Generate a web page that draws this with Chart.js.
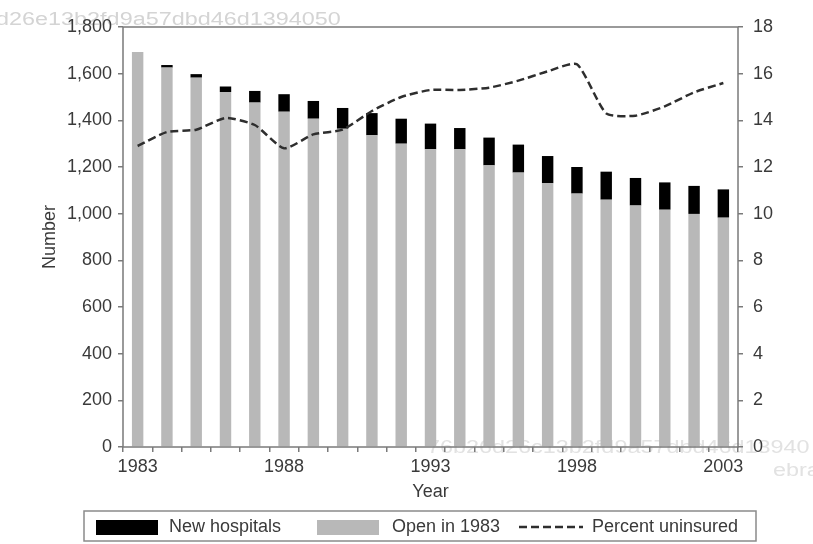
<!DOCTYPE html>
<html>
<head>
<meta charset="utf-8">
<script src="https://cdn.jsdelivr.net/npm/chart.js@4.4.1/dist/chart.umd.min.js"></script>
<style>
  html, body { margin: 0; padding: 0; background: #fff; }
  #wrap { width: 813px; height: 544px; }
</style>
</head>
<body>
<div id="wrap"><canvas id="chart" width="813" height="544"></canvas></div>
<script>
// ── Data ───────────────────────────────────────────────────
const years = ["1983", "1984", "1985", "1986", "1987", "1988", "1989", "1990", "1991", "1992",
               "1993", "1994", "1995", "1996", "1997", "1998", "1999", "2000", "2001", "2002", "2003"];
const shownYears = ["1983", "1988", "1993", "1998", "2003"];

const openIn1983   = [1693, 1626, 1583, 1521, 1476, 1437, 1407, 1364, 1336, 1300,
                      1276, 1276, 1207, 1176, 1131, 1086, 1060, 1035, 1017, 999, 983];
const newHospitals = [0, 11, 15, 24, 50, 75, 76, 89, 95, 107,
                      110, 91, 119, 120, 116, 114, 120, 118, 117, 120, 121];
const pctUninsured = [12.9, 13.5, 13.6, 14.1, 13.8, 12.8, 13.4, 13.6, 14.4, 15.0,
                      15.3, 15.3, 15.4, 15.7, 16.1, 16.4, 14.3, 14.2, 14.6, 15.2, 15.6];

const leftTicks  = [0, 1800, 200];
const rightTicks = [0, 18, 2];

// ── Style ──────────────────────────────────────────────────
const FONT = "'Liberation Sans', Arial, Helvetica, sans-serif";
const AXIS = "#7a7a7a";
const TEXT = "#3a3a3a";
const GRAY = "#b8b8b8";
const DASH = [8, 4];

Chart.defaults.font.family = FONT;
Chart.defaults.font.size = 18;
Chart.defaults.color = TEXT;

// ── Plugins: watermark, frame, legend box ─────────────────
const watermark = {
    id: "watermark",
    beforeDraw(chart) {
        const ctx = chart.ctx;
        ctx.save();
        ctx.font = "18px " + FONT;
        ctx.textBaseline = "alphabetic";
        ctx.fillStyle = "#d4d4d4";
        ctx.translate(-4, 25);
        ctx.scale(1.3, 1);
        ctx.fillText("d26e13b2fd9a57dbd46d1394050", 0, 0);
        ctx.restore();

        ctx.save();
        ctx.font = "18px " + FONT;
        ctx.fillStyle = "#e2e2e2";
        ctx.translate(427, 453);
        ctx.scale(1.3, 1);
        ctx.fillText("76b26d26c13b2fd9a57dbd46d13940", 0, 0);
        ctx.restore();

        ctx.save();
        ctx.font = "18px " + FONT;
        ctx.fillStyle = "#e2e2e2";
        ctx.translate(773, 476);
        ctx.scale(1.3, 1);
        ctx.fillText("ebrary", 0, 0);
        ctx.restore();
    },
};

const frame = {
    id: "frame",
    afterDraw(chart) {
        const { ctx, chartArea: a } = chart;
        ctx.save();
        ctx.strokeStyle = AXIS;
        ctx.lineWidth = 1.5;
        ctx.strokeRect(a.left, a.top, a.right - a.left, a.bottom - a.top);
        ctx.restore();
    },
};

const legendBox = {
    id: "legendBox",
    afterDraw(chart) {
        const ctx = chart.ctx;
        const ds = chart.data.datasets;
        ctx.save();
        ctx.strokeStyle = "#8a8a8a";
        ctx.lineWidth = 1.5;
        ctx.strokeRect(84, 511, 672, 30);

        ctx.font = "18px " + FONT;
        ctx.fillStyle = TEXT;
        ctx.textBaseline = "middle";

        // New hospitals
        ctx.fillStyle = ds[1].backgroundColor;
        ctx.fillRect(96, 520, 62, 15);
        ctx.fillStyle = TEXT;
        ctx.fillText(ds[1].label, 169, 527);

        // Open in 1983
        ctx.fillStyle = ds[0].backgroundColor;
        ctx.fillRect(317, 520, 62, 15);
        ctx.fillStyle = TEXT;
        ctx.fillText(ds[0].label, 392, 527);

        // Percent uninsured
        ctx.strokeStyle = ds[2].borderColor;
        ctx.lineWidth = 2.5;
        ctx.setLineDash(DASH);
        ctx.beginPath();
        ctx.moveTo(519, 527);
        ctx.lineTo(583, 527);
        ctx.stroke();
        ctx.setLineDash([]);
        ctx.fillText(ds[2].label, 592, 527);
        ctx.restore();
    },
};

// ── Chart ──────────────────────────────────────────────────
const ctx = document.getElementById("chart").getContext("2d");
new Chart(ctx, {
    type: "bar",
    data: {
        labels: years,
        datasets: [
            {
                label: "Open in 1983",
                data: openIn1983,
                backgroundColor: GRAY,
                barPercentage: 0.39,
                categoryPercentage: 1,
                order: 1,
            },
            {
                label: "New hospitals",
                data: newHospitals,
                backgroundColor: "#000",
                barPercentage: 0.39,
                categoryPercentage: 1,
                order: 1,
            },
            {
                type: "line",
                label: "Percent uninsured",
                data: pctUninsured,
                yAxisID: "y2",
                borderColor: "#2e2e2e",
                borderWidth: 2.5,
                borderDash: DASH,
                tension: 0.2,
                pointRadius: 0,
                fill: false,
                order: 0,
            },
        ],
    },
    options: {
        responsive: false,
        devicePixelRatio: 1,
        animation: false,
        layout: { padding: { left: 35, top: 27, right: 0, bottom: 37 } },
        plugins: {
            legend: { display: false },
            tooltip: { enabled: false },
        },
        scales: {
            x: {
                stacked: true,
                offset: true,
                grid: { drawOnChartArea: false, color: AXIS, lineWidth: 1.5, tickLength: 5, offset: true },
                border: { display: false },
                ticks: {
                    autoSkip: false,
                    maxRotation: 0,
                    padding: 4,
                    callback: (v, i) => (shownYears.includes(years[i]) ? years[i] : ""),
                },
                title: { display: true, text: "Year", font: { size: 18 }, padding: { top: 4, bottom: 4 } },
                afterFit: (s) => { s.height = 60; },
            },
            y: {
                stacked: true,
                position: "left",
                min: leftTicks[0],
                max: leftTicks[1],
                grid: { drawOnChartArea: false, color: AXIS, lineWidth: 1.5, tickLength: 5 },
                border: { display: false },
                ticks: {
                    stepSize: leftTicks[2],
                    padding: 6,
                    callback: (v) => v.toLocaleString("en-US"),
                },
                title: { display: true, text: "Number", font: { size: 18 }, padding: { top: 4, bottom: 4 } },
                afterFit: (s) => { s.width = 88; },
            },
            y2: {
                position: "right",
                min: rightTicks[0],
                max: rightTicks[1],
                grid: { drawOnChartArea: false, color: AXIS, lineWidth: 1.5, tickLength: 5 },
                border: { display: false },
                ticks: { stepSize: rightTicks[2], padding: 10 },
                afterFit: (s) => { s.width = 75; },
            },
        },
    },
    plugins: [watermark, frame, legendBox],
});
</script>
</body>
</html>
